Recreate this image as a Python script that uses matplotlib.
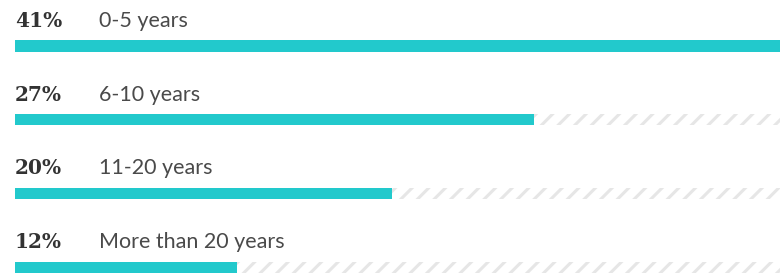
import matplotlib
matplotlib.use("Agg")
import matplotlib.pyplot as plt
import numpy as np

# ---------------------------------------------------------------------------
# Data
# ---------------------------------------------------------------------------
categories = ["0-5 years", "6-10 years", "11-20 years", "More than 20 years"]
pct_labels = ["41%", "27%", "20%", "12%"]
shares     = [41.0, 27.8, 20.2, 11.9]   # bar lengths
full_scale = 41.0

TEAL   = "#22c9cc"
STRIPE = "#e6e6e6"
TEXT   = "#333333"

plt.rcParams["hatch.linewidth"] = 2.2

fig = plt.figure(figsize=(7.8, 2.73), dpi=100)
fig.patch.set_facecolor("white")
ax = fig.add_axes([15 / 780, 0, 765 / 780, 1])

y = np.arange(len(categories))
bar_h = 0.15

# striped track behind every bar
ax.barh(y, [full_scale] * len(y), height=bar_h, color="white",
        edgecolor=STRIPE, hatch="//", linewidth=0, zorder=1)
ax.barh(y, shares, height=bar_h, color=TEAL, linewidth=0, zorder=2)

for i, (pct, cat) in enumerate(zip(pct_labels, categories)):
    ax.text(0, i - 0.34, pct, ha="left", va="center", fontsize=14.5,
            fontweight="bold", family="DejaVu Serif", color=TEXT)
    ax.text(84 / 765, i - 0.34, cat, ha="left", va="center", fontsize=15.5,
            family="Lato", fontweight="normal", color="#4a4a4a",
            transform=ax.get_yaxis_transform())

ax.set_xlim(0, full_scale)
ax.set_ylim(3.076, -0.623)
ax.axis("off")

plt.savefig("out.png", dpi=100, facecolor="white")
plt.close()
